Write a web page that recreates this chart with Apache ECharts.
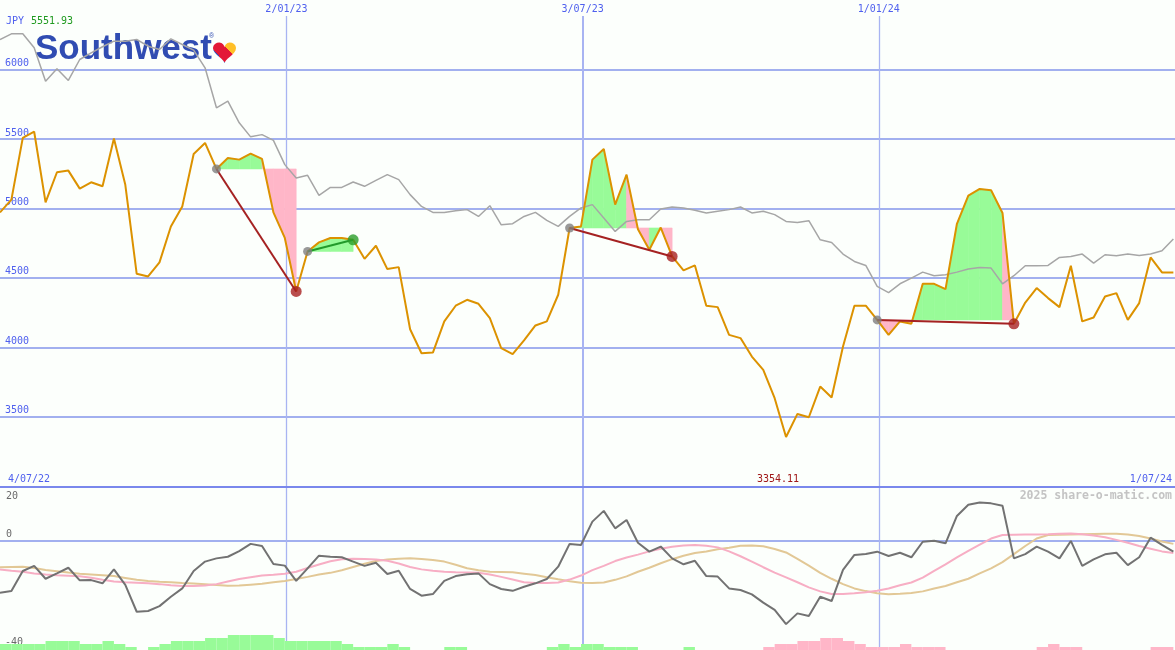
<!DOCTYPE html>
<html>
<head>
<meta charset="utf-8">
<script src="https://cdn.jsdelivr.net/npm/echarts@6/dist/echarts.min.js"></script>
<style>
html,body{margin:0;padding:0;background:#fcfffc;}
#chart{width:1175px;height:650px;}
</style>
</head>
<body>
<div id="chart"></div>
<script>
// ---------------- DATA ----------------
const currency = 'JPY';
const weekStart = '2022-07-10';          // first weekly point
const axisStart = '2022-07-10';
const axisEnd = '2024-07-01';
const startLabel = '4/07/22';
const endLabel = '1/07/24';
const watermark = '2025 share-o-matic.com';

// weekly close, Southwest (JPY)
const price = [
  4971, 5063, 5508, 5551.93, 5043, 5260, 5272, 5142, 5188, 5159,
  5503, 5170, 4529, 4510, 4611, 4870, 5014, 5392, 5471, 5284,
  5363, 5351, 5394, 5356, 4971, 4787, 4402, 4690, 4755, 4787,
  4787, 4774, 4637, 4731, 4563, 4577, 4130, 3957, 3962, 4186,
  4299, 4342, 4313, 4210, 3993, 3950, 4049, 4157, 4186, 4378,
  4859, 4870, 5351, 5428, 5027, 5243, 4850, 4702, 4862, 4654,
  4553, 4589, 4299, 4289, 4089, 4066, 3933, 3837, 3633, 3354.11,
  3520, 3496, 3717, 3638, 4005, 4299, 4299, 4197, 4089, 4186,
  4169, 4457, 4457, 4419, 4889, 5092, 5140, 5130, 4967, 4169,
  4322, 4426, 4354, 4289, 4587, 4186, 4214, 4366, 4390, 4197,
  4318, 4647, 4539, 4539
];

// comparison index (grey)
const compare = [
  6216, 6257, 6257, 6156, 5916, 6005, 5921, 6072, 6120, 6164,
  6204, 6204, 6216, 6168, 6144, 6221, 6180, 6139, 6012, 5724,
  5772, 5616, 5515, 5531, 5490, 5315, 5219, 5238, 5094, 5151,
  5151, 5190, 5159, 5202, 5243, 5207, 5099, 5014, 4971, 4971,
  4983, 4991, 4942, 5019, 4882, 4890, 4942, 4971, 4913, 4870,
  4942, 5003, 5027, 4931, 4834, 4906, 4918, 4918, 4996, 5010,
  5003, 4986, 4967, 4979, 4991, 5010, 4967, 4979, 4955, 4906,
  4899, 4911, 4774, 4755, 4671, 4618, 4589, 4438, 4394, 4457,
  4498, 4541, 4515, 4522, 4541, 4563, 4575, 4570, 4457, 4515,
  4587, 4587, 4589, 4647, 4654, 4671, 4606, 4666, 4659, 4671,
  4661, 4671, 4695, 4779
];

// lower panel oscillator (dark grey)
const osc = [
  -19.4, -18.8, -11.3, -9.4, -14.2, -12.2, -10.1, -14.8, -14.7, -15.9,
  -10.7, -16.5, -26.5, -26.2, -24.4, -20.9, -17.8, -11.3, -7.8, -6.6,
  -6.0, -3.9, -1.2, -2.0, -8.7, -9.3, -15.0, -10.3, -5.6, -6.0,
  -6.2, -7.8, -9.4, -8.2, -12.4, -11.2, -18.0, -20.5, -19.9, -15.0,
  -13.2, -12.5, -12.2, -16.2, -18.0, -18.7, -17.2, -15.9, -14.3, -9.7,
  -1.2, -1.6, 7.1, 11.1, 4.6, 7.7, -0.8, -4.1, -2.2, -6.6,
  -8.8, -7.5, -13.2, -13.4, -17.8, -18.4, -20.0, -23.1, -25.8, -31.1,
  -27.1, -28.1, -20.9, -22.5, -10.9, -5.3, -5.0, -4.1, -5.7, -4.5,
  -6.2, -0.4, 0.0, -1.0, 9.2, 13.4, 14.2, 13.9, 13.0, -6.6,
  -5.0, -2.2, -4.1, -6.6, -0.1, -9.4, -7.0, -5.1, -4.5, -9.1,
  -6.2, 1.1, -1.6, -4.1
];

// fast average (pink)
const oscFast = [
  -10.7, -11.2, -11.6, -12.2, -12.6, -12.9, -13.1, -13.3, -13.8, -14.6,
  -15.2, -15.5, -15.7, -15.9, -16.2, -16.6, -16.9, -16.9, -16.7, -16.2,
  -15.2, -14.3, -13.6, -13.0, -12.7, -12.3, -11.6, -10.2, -8.9, -7.7,
  -6.9, -6.7, -6.8, -7.0, -7.5, -8.5, -9.8, -10.7, -11.2, -11.6,
  -11.8, -11.9, -12.0, -12.6, -13.5, -14.5, -15.5, -15.8, -15.8, -15.6,
  -14.5, -13.0, -11.0, -9.4, -7.6, -6.3, -5.2, -4.0, -3.0, -2.3,
  -1.8, -1.6, -1.9, -2.5, -4.0, -5.8, -7.8, -9.9, -11.9, -13.7,
  -15.5, -17.4, -18.9, -19.9, -19.9, -19.6, -19.2, -18.7, -17.8, -16.6,
  -15.6, -13.8, -11.3, -8.8, -6.2, -3.8, -1.5, 0.8, 2.1, 2.2,
  2.3, 2.3, 2.4, 2.6, 2.7, 2.4, 1.9, 1.3, 0.3, -0.8,
  -2.0, -3.0, -4.0, -4.6
];

// slow average (tan)
const oscSlow = [
  -9.9, -9.8, -9.7, -10.2, -10.9, -11.4, -11.9, -12.3, -12.6, -12.9,
  -13.2, -13.9, -14.6, -15.0, -15.3, -15.5, -15.8, -16.0, -16.2, -16.5,
  -16.8, -16.7, -16.4, -16.1, -15.5, -15.0, -14.3, -13.5, -12.6, -12.0,
  -11.0, -9.8, -8.6, -7.6, -7.0, -6.7, -6.6, -6.8, -7.2, -7.8,
  -9.0, -10.3, -11.0, -11.6, -11.7, -11.8, -12.3, -12.8, -13.6, -14.4,
  -15.1, -15.7, -15.8, -15.6, -14.6, -13.3, -11.6, -10.1, -8.4, -6.9,
  -5.6, -4.6, -4.0, -3.2, -2.6, -1.9, -1.8, -2.1, -3.1, -4.4,
  -6.8, -9.3, -12.0, -14.2, -16.2, -17.8, -18.8, -19.6, -20.0, -19.8,
  -19.5, -18.9, -17.8, -16.9, -15.5, -14.2, -12.2, -10.3, -8.0, -5.0,
  -2.0, 0.8, 2.1, 2.2, 2.3, 2.4, 2.5, 2.6, 2.6, 2.3,
  1.7, 0.8, -0.3, -1.2
];

// bottom histogram (positive = green, negative = pink)
const histo = [
  2, 2, 2, 2, 3, 3, 3, 2, 2, 3,
  2, 1, 0, 1, 2, 3, 3, 3, 4, 4,
  5, 5, 5, 5, 4, 3, 3, 3, 3, 3,
  2, 1, 1, 1, 2, 1, 0, 0, 0, 1,
  1, 0, 0, 0, 0, 0, 0, 0, 1, 2,
  1, 2, 2, 1, 1, 1, 0, 0, 0, 0,
  1, 0, 0, 0, 0, 0, 0, -1, -2, -2,
  -3, -3, -4, -4, -3, -2, -1, -1, -1, -2,
  -1, -1, -1, 0, 0, 0, 0, 0, 0, 0,
  0, -1, -2, -1, -1, 0, 0, 0, 0, 0,
  0, -1, -1, 0
];

const priceTicks = [6000, 5500, 5000, 4500, 4000, 3500];
const dateLines = ['2023-01-02', '2023-07-03', '2024-01-01'];
const dateLineLabels = ['2/01/23', '3/07/23', '1/01/24'];
const trendStarts = [19, 27, 50, 77];
const trendEnds = [26, 31, 59, 89];

// ---------------- BUILD ----------------
const DAY = 86400000;
const t0 = Date.parse(weekStart + 'T00:00:00Z');
const dates = price.map((_, i) => t0 + i * 7 * DAY);
const tMin = Date.parse(axisStart + 'T00:00:00Z');
const tMax = Date.parse(axisEnd + 'T00:00:00Z');
const lineTimes = dateLines.map(d => Date.parse(d + 'T00:00:00Z'));

const maxVal = Math.max(...price).toFixed(2);
const minVal = Math.min(...price).toFixed(2);

const GREEN_FILL = '#98fb98', PINK_FILL = '#ffb6c8';
const GRID_BLUE = '#a2b0ef', TEXT_BLUE = '#4f60ee';
const MONO = '"DejaVu Sans Mono", "Liberation Mono", monospace';

// fill segments between price and trend baseline
const fillSegs = [];
trendStarts.forEach((s, k) => {
  const e = trendEnds[k];
  const base = price[s];
  for (let i = s; i < e; i++) {
    fillSegs.push({ t0: dates[i], t1: dates[i + 1], p0: price[i], p1: price[i + 1], base, up: price[i + 1] >= base });
  }
});

function renderFill(params, api) {
  const s = fillSegs[params.dataIndex];
  const a = api.coord([s.t0, s.base]);
  const b = api.coord([s.t0, s.p0]);
  const c = api.coord([s.t1, s.p1]);
  const d = api.coord([s.t1, s.base]);
  const col = s.up ? GREEN_FILL : PINK_FILL;
  return { type: 'polygon', shape: { points: [a, b, c, d] }, style: { fill: col, stroke: col, lineWidth: 0.6 } };
}

function renderHist(params, api) {
  const k = params.dataIndex;
  const v = histo[k];
  if (!v) return { type: 'group', children: [] };
  const tNext = k + 1 < dates.length ? dates[k + 1] : dates[k] + 7 * DAY;
  const p0 = api.coord([dates[k], 0]);
  const p1 = api.coord([tNext, Math.abs(v)]);
  return { type: 'rect', shape: { x: p0[0], y: p1[1], width: p1[0] - p0[0], height: p0[1] - p1[1] },
           style: { fill: v > 0 ? GREEN_FILL : PINK_FILL } };
}

const vWidths = [1.3, 2, 1.3];
const topMarkData = priceTicks.map(v => ({ yAxis: v, label: { formatter: String(v) } }))
  .concat(lineTimes.map((t, i) => ({
    xAxis: t, lineStyle: { width: vWidths[i], color: '#a8b4f2' },
    label: { position: 'end', distance: 2, formatter: dateLineLabels[i], color: TEXT_BLUE, fontFamily: MONO, fontSize: 10 }
  })));

const bottomMarkData = [{ yAxis: 0, label: { formatter: '0' } }]
  .concat(lineTimes.map((t, i) => ({ xAxis: t, lineStyle: { width: vWidths[i], color: '#a8b4f2' }, label: { show: false } })));

const series = [];

series.push({
  type: 'custom', name: 'fills', xAxisIndex: 0, yAxisIndex: 0, z: 2, silent: true,
  renderItem: renderFill, data: fillSegs.map(s => [s.t0, s.p0]),
  markLine: {
    z: 1, silent: true, symbol: 'none', animation: false,
    lineStyle: { color: GRID_BLUE, width: 2, type: 'solid' },
    label: { position: 'insideStartTop', distance: [5, 1], color: TEXT_BLUE, fontFamily: MONO, fontSize: 10 },
    data: topMarkData
  }
});

series.push({
  type: 'line', name: 'compare', xAxisIndex: 0, yAxisIndex: 0, z: 3,
  data: dates.map((t, i) => [t, compare[i]]), showSymbol: false, symbol: 'none',
  lineStyle: { color: '#a6a6a6', width: 1.5 }
});

series.push({
  type: 'line', name: 'price', xAxisIndex: 0, yAxisIndex: 0, z: 4,
  data: dates.map((t, i) => [t, price[i]]), showSymbol: false, symbol: 'none',
  lineStyle: { color: '#dc9200', width: 2 }
});

trendStarts.forEach((s, k) => {
  const e = trendEnds[k];
  const up = price[e] > price[s];
  series.push({
    type: 'line', xAxisIndex: 0, yAxisIndex: 0, z: 5,
    data: [[dates[s], price[s]], [dates[e], price[e]]], showSymbol: false, symbol: 'none',
    lineStyle: { color: up ? '#229a2a' : '#a52222', width: 2 }
  });
});

series.push({
  type: 'scatter', xAxisIndex: 0, yAxisIndex: 0, z: 6, symbolSize: 9,
  itemStyle: { color: '#808080' },
  data: trendStarts.map(s => [dates[s], price[s]])
});
series.push({
  type: 'scatter', xAxisIndex: 0, yAxisIndex: 0, z: 6, symbolSize: 11,
  data: trendEnds.map((e, k) => ({
    value: [dates[e], price[e]],
    itemStyle: { color: price[e] > price[trendStarts[k]] ? '#2a9e2a' : '#a82020' }
  }))
});

// lower panel
series.push({
  type: 'custom', name: 'histo', xAxisIndex: 1, yAxisIndex: 2, z: 2, silent: true,
  renderItem: renderHist, data: histo.map((v, k) => [dates[k], Math.abs(v)])
});
series.push({
  type: 'line', xAxisIndex: 1, yAxisIndex: 1, z: 3, showSymbol: false, symbol: 'none',
  data: dates.map((t, i) => [t, oscSlow[i]]), lineStyle: { color: '#e2c896', width: 2 },
  markLine: {
    z: 1, silent: true, symbol: 'none', animation: false,
    lineStyle: { color: GRID_BLUE, width: 2, type: 'solid' },
    label: { position: 'insideStartTop', distance: [6, 1], color: '#6a6a6a', fontFamily: MONO, fontSize: 10 },
    data: bottomMarkData
  }
});
series.push({
  type: 'line', xAxisIndex: 1, yAxisIndex: 1, z: 4, showSymbol: false, symbol: 'none',
  data: dates.map((t, i) => [t, oscFast[i]]), lineStyle: { color: '#f7aec4', width: 2 }
});
series.push({
  type: 'line', xAxisIndex: 1, yAxisIndex: 1, z: 5, showSymbol: false, symbol: 'none',
  data: dates.map((t, i) => [t, osc[i]]), lineStyle: { color: '#727272', width: 2 }
});

const hiddenAxis = { show: false, axisLine: { show: false }, axisTick: { show: false }, axisLabel: { show: false }, splitLine: { show: false } };

// heart logo outline (decorative shape, not data)
const heartPts = [];
for (let a = 0; a < 360; a += 10) {
  const t = a * Math.PI / 180;
  const hx = 16 * Math.pow(Math.sin(t), 3);
  const hy = 13 * Math.cos(t) - 5 * Math.cos(2 * t) - 2 * Math.cos(3 * t) - Math.cos(4 * t);
  heartPts.push([224.5 + hx * 0.72, 51 - hy * 0.72]);
}

const option = {
  backgroundColor: '#fcfffc',
  animation: false,
  grid: [
    { left: 0, right: 0, top: 16, height: 471 },
    { left: 0, right: 0, top: 487, height: 163 }
  ],
  xAxis: [
    Object.assign({ type: 'time', gridIndex: 0, min: tMin, max: tMax }, hiddenAxis),
    Object.assign({ type: 'time', gridIndex: 1, min: tMin, max: tMax }, hiddenAxis)
  ],
  yAxis: [
    Object.assign({ type: 'value', gridIndex: 0, min: 2993.8, max: 6385.2 }, hiddenAxis),
    Object.assign({ type: 'value', gridIndex: 1, min: -40.75, max: 20 }, hiddenAxis),
    Object.assign({ type: 'value', gridIndex: 1, min: 0, max: 54.33 }, hiddenAxis)
  ],
  series: series,
  graphic: [
    { type: 'text', z: 0, x: 35, y: 49, style: { text: 'Southwest', fill: '#304cb2', font: 'bold 35px "Liberation Sans", Arial, sans-serif', verticalAlign: 'middle' } },
    { type: 'text', z: 0, x: 209, y: 36, style: { text: '\u00ae', fill: '#304cb2', font: '7px "Liberation Sans", sans-serif', verticalAlign: 'middle' } },
    { type: 'polygon', z: 0, shape: { points: heartPts },
      style: { fill: { type: 'linear', x: 0, y: 1, x2: 1, y2: 0, colorStops: [
        { offset: 0, color: '#304cb2' }, { offset: 0.3, color: '#304cb2' },
        { offset: 0.3, color: '#e31837' }, { offset: 0.66, color: '#e31837' },
        { offset: 0.66, color: '#ffbf27' }, { offset: 1, color: '#ffbf27' } ] } } },
    { type: 'text', x: 6, y: 21, style: { text: currency, fill: TEXT_BLUE, font: '10px ' + MONO, verticalAlign: 'middle' } },
    { type: 'text', x: 31, y: 21, style: { text: maxVal, fill: '#1f9a1f', font: '10px ' + MONO, verticalAlign: 'middle' } },
    { type: 'line', z: 10, shape: { x1: 0, y1: 487, x2: 1175, y2: 487 }, style: { stroke: '#7a88ec', lineWidth: 2 } },
    { type: 'text', x: 8, y: 479, style: { text: startLabel, fill: TEXT_BLUE, font: '10px ' + MONO, verticalAlign: 'middle' } },
    { type: 'text', x: 778, y: 479, style: { text: minVal, fill: '#a01818', font: '10px ' + MONO, verticalAlign: 'middle', align: 'center' } },
    { type: 'text', x: 1172, y: 479, style: { text: endLabel, fill: TEXT_BLUE, font: '10px ' + MONO, verticalAlign: 'middle', align: 'right' } },
    { type: 'text', x: 1172, y: 496, style: { text: watermark, fill: '#c4c4c4', font: 'bold 11.5px ' + MONO, verticalAlign: 'middle', align: 'right' } },
    { type: 'text', x: 6, y: 496.5, style: { text: '20', fill: '#6a6a6a', font: '10px ' + MONO, verticalAlign: 'middle' } },
    { type: 'text', x: 5, y: 642.5, style: { text: '-40', fill: '#6a6a6a', font: '10px ' + MONO, verticalAlign: 'middle' } }
  ]
};

const chart = echarts.init(document.getElementById('chart'), null, { renderer: 'canvas' });
chart.setOption(option);
</script>
</body>
</html>
